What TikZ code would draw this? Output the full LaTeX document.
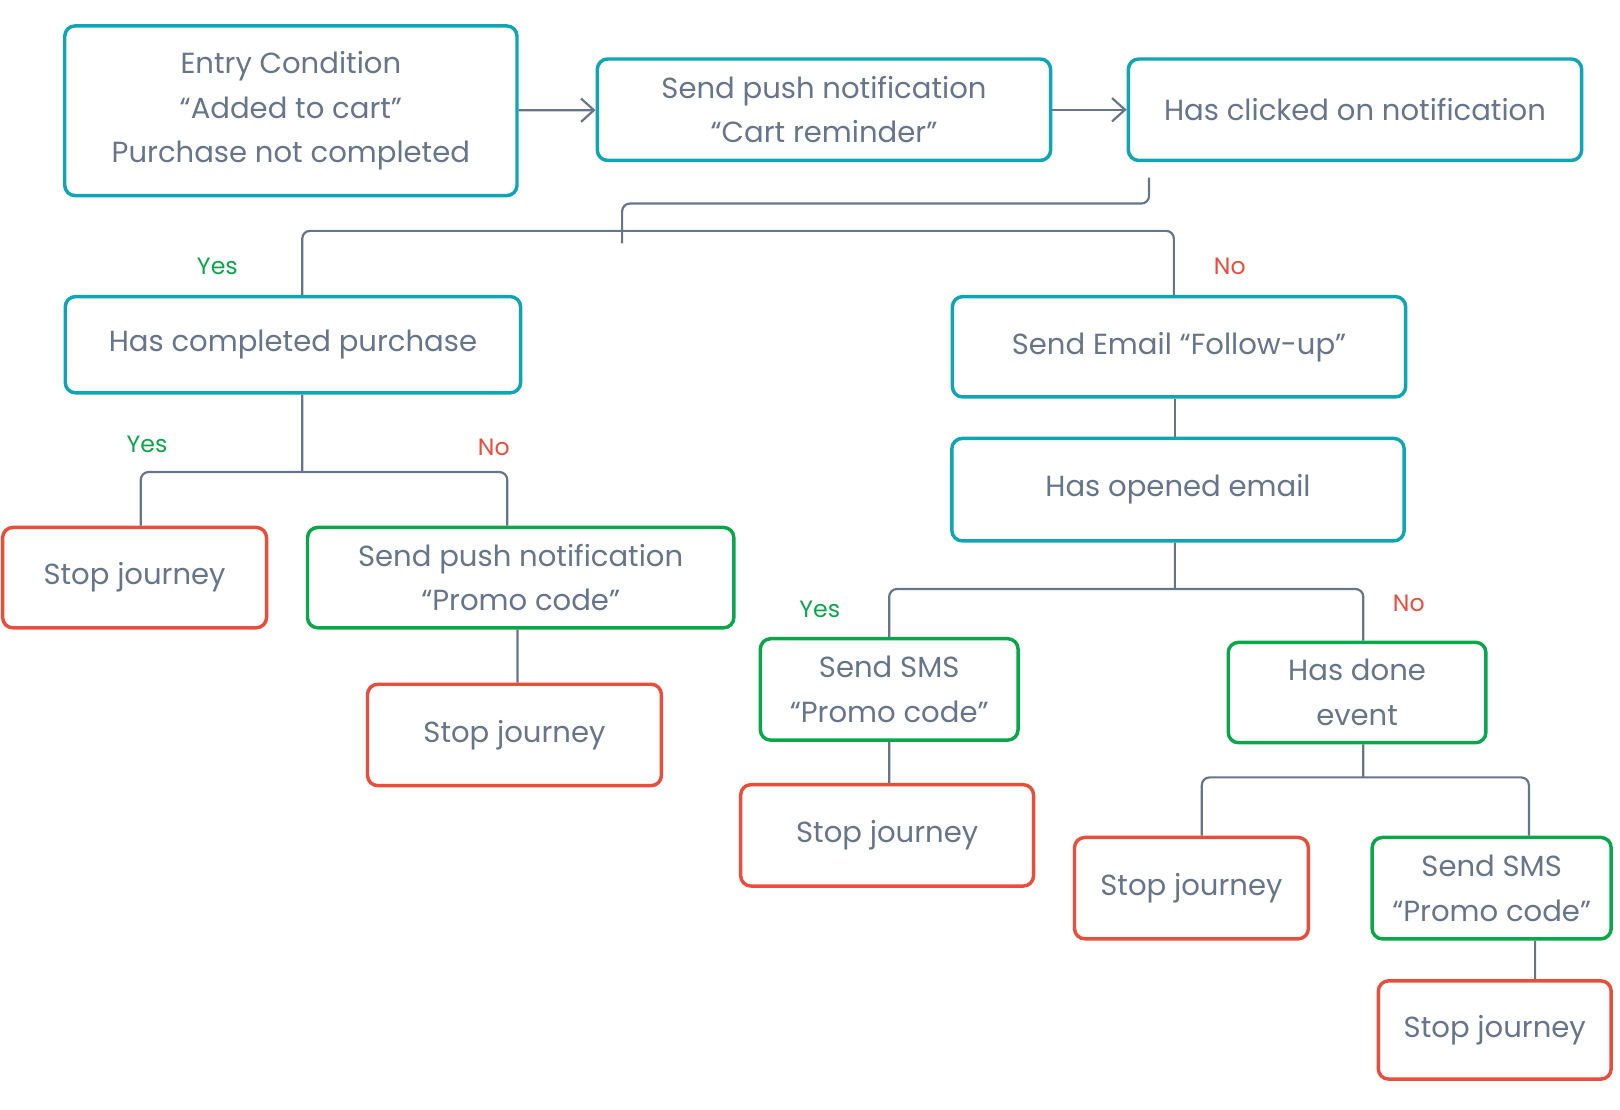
\documentclass[tikz,border=0pt]{standalone}
\usepackage{fontspec}
\setmainfont{Poppins}
\usetikzlibrary{arrows.meta}
\definecolor{txt}{HTML}{67758A}
\definecolor{teal}{HTML}{10A5B5}
\definecolor{okgreen}{HTML}{0AA64A}
\definecolor{stopred}{HTML}{E94E3C}
\tikzset{
  box/.style={draw, rounded corners=0.2cm, line width=1.9pt, text=txt, align=center,
    inner sep=0pt, font=\fontsize{16}{24.5}\selectfont},
  flow/.style={box, draw=teal},
  go/.style={box, draw=okgreen},
  halt/.style={box, draw=stopred},
  link/.style={draw=txt, line width=1.2pt, rounded corners=0.15cm},
  yes/.style={text=okgreen, font=\fontsize{13}{15}\selectfont},
  no/.style={text=stopred, font=\fontsize{13}{15}\selectfont}
}
\begin{document}
\begin{tikzpicture}[x=0.02cm, y=-0.02cm]
      \useasboundingbox (0,0) rectangle (1565,1072);
      \node[flow, minimum width=8.74cm, minimum height=3.28cm] (entry)    at (281,107) {Entry Condition\\“Added to cart”\\Purchase not completed};
      \node[flow, minimum width=8.76cm, minimum height=1.96cm] (push)     at (796,106) {Send push notification\\“Cart reminder”};
      \node[flow, minimum width=8.76cm, minimum height=1.96cm] (clicked)  at (1309,106) {Has clicked on notification};
      \node[flow, minimum width=8.80cm, minimum height=1.86cm] (purchase) at (283,333) {Has completed purchase};
      \node[flow, minimum width=8.76cm, minimum height=1.94cm] (email)    at (1139,335) {Send Email “Follow-up”};
      \node[flow, minimum width=8.74cm, minimum height=1.98cm] (opened)   at (1138,473) {Has opened email};
      \node[halt, minimum width=5.10cm, minimum height=1.94cm] (stopA)    at (130,558) {Stop journey};
      \node[go,   minimum width=8.24cm, minimum height=1.94cm] (promo)    at (503,558) {Send push notification\\“Promo code”};
      \node[halt, minimum width=5.68cm, minimum height=1.96cm] (stopB)    at (497,710) {Stop journey};
      \node[go,   minimum width=4.98cm, minimum height=1.96cm] (smsA)     at (859,666) {Send SMS\\“Promo code”};
      \node[go,   minimum width=4.98cm, minimum height=1.94cm] (done)     at (1311,669) {Has done\\event};
      \node[halt, minimum width=5.66cm, minimum height=1.96cm] (stopC)    at (857,807) {Stop journey};
      \node[halt, minimum width=4.52cm, minimum height=1.96cm] (stopD)    at (1151,858) {Stop journey};
      \node[go,   minimum width=4.62cm, minimum height=1.96cm] (smsB)     at (1441,858) {Send SMS\\“Promo code”};
      \node[halt, minimum width=4.50cm, minimum height=1.90cm] (stopE)    at (1444,995) {Stop journey};
      % junction points of the branches
      \coordinate (split)  at (601,235);
      \coordinate (jTop)   at (292,223);
      \coordinate (jPur)   at (292,456);
      \coordinate (jOpen)  at (1135,569);
      \coordinate (jDone)  at (1317,751);
      % main line
      \draw[link, -{Straight Barb[length=2.5mm, width=4.5mm]}] (entry) -- (push);
      \draw[link, -{Straight Barb[length=2.5mm, width=4.5mm]}] (push) -- (clicked);
      \draw[link] ([xshift=-3.98cm, yshift=-0.3cm]clicked.south) -- ++(0,25) -| (split);
      \draw[link] ([xshift=0.18cm]purchase.north) -- (jTop) -| ([xshift=-0.1cm]email.north);
      \node[yes] at (210,257) {Yes};
      \node[no]  at (1188,257) {No};
      % left branch
      \draw[link] ([xshift=0.18cm]purchase.south) -- (jPur);
      \draw[link] ([xshift=0.12cm]stopA.north) |- (jPur) -| ([xshift=-0.26cm]promo.north);
      \node[yes] at (142,429) {Yes};
      \node[no]  at (477,432) {No};
      \draw[link] ([xshift=-0.06cm]promo.south) -- ([xshift=0.06cm]stopB.north);
      % right branch
      \draw[link] ([xshift=-0.08cm]email.south) -- ([xshift=-0.06cm]opened.north);
      \draw[link] ([xshift=-0.06cm]opened.south) -- (jOpen);
      \draw[link] (smsA.north) |- (jOpen) -| ([xshift=0.12cm]done.north);
      \node[yes] at (792,589) {Yes};
      \node[no]  at (1361,583) {No};
      \draw[link] (smsA.south) -- ([xshift=0.04cm]stopC.north);
      \draw[link] ([xshift=0.12cm]done.south) -- (jDone);
      \draw[link] ([xshift=0.2cm]stopD.north) |- (jDone) -| ([xshift=0.72cm]smsB.north);
      \draw[link] ([xshift=0.84cm]smsB.south) -- ([xshift=0.78cm]stopE.north);
    \end{tikzpicture}
\end{document}
